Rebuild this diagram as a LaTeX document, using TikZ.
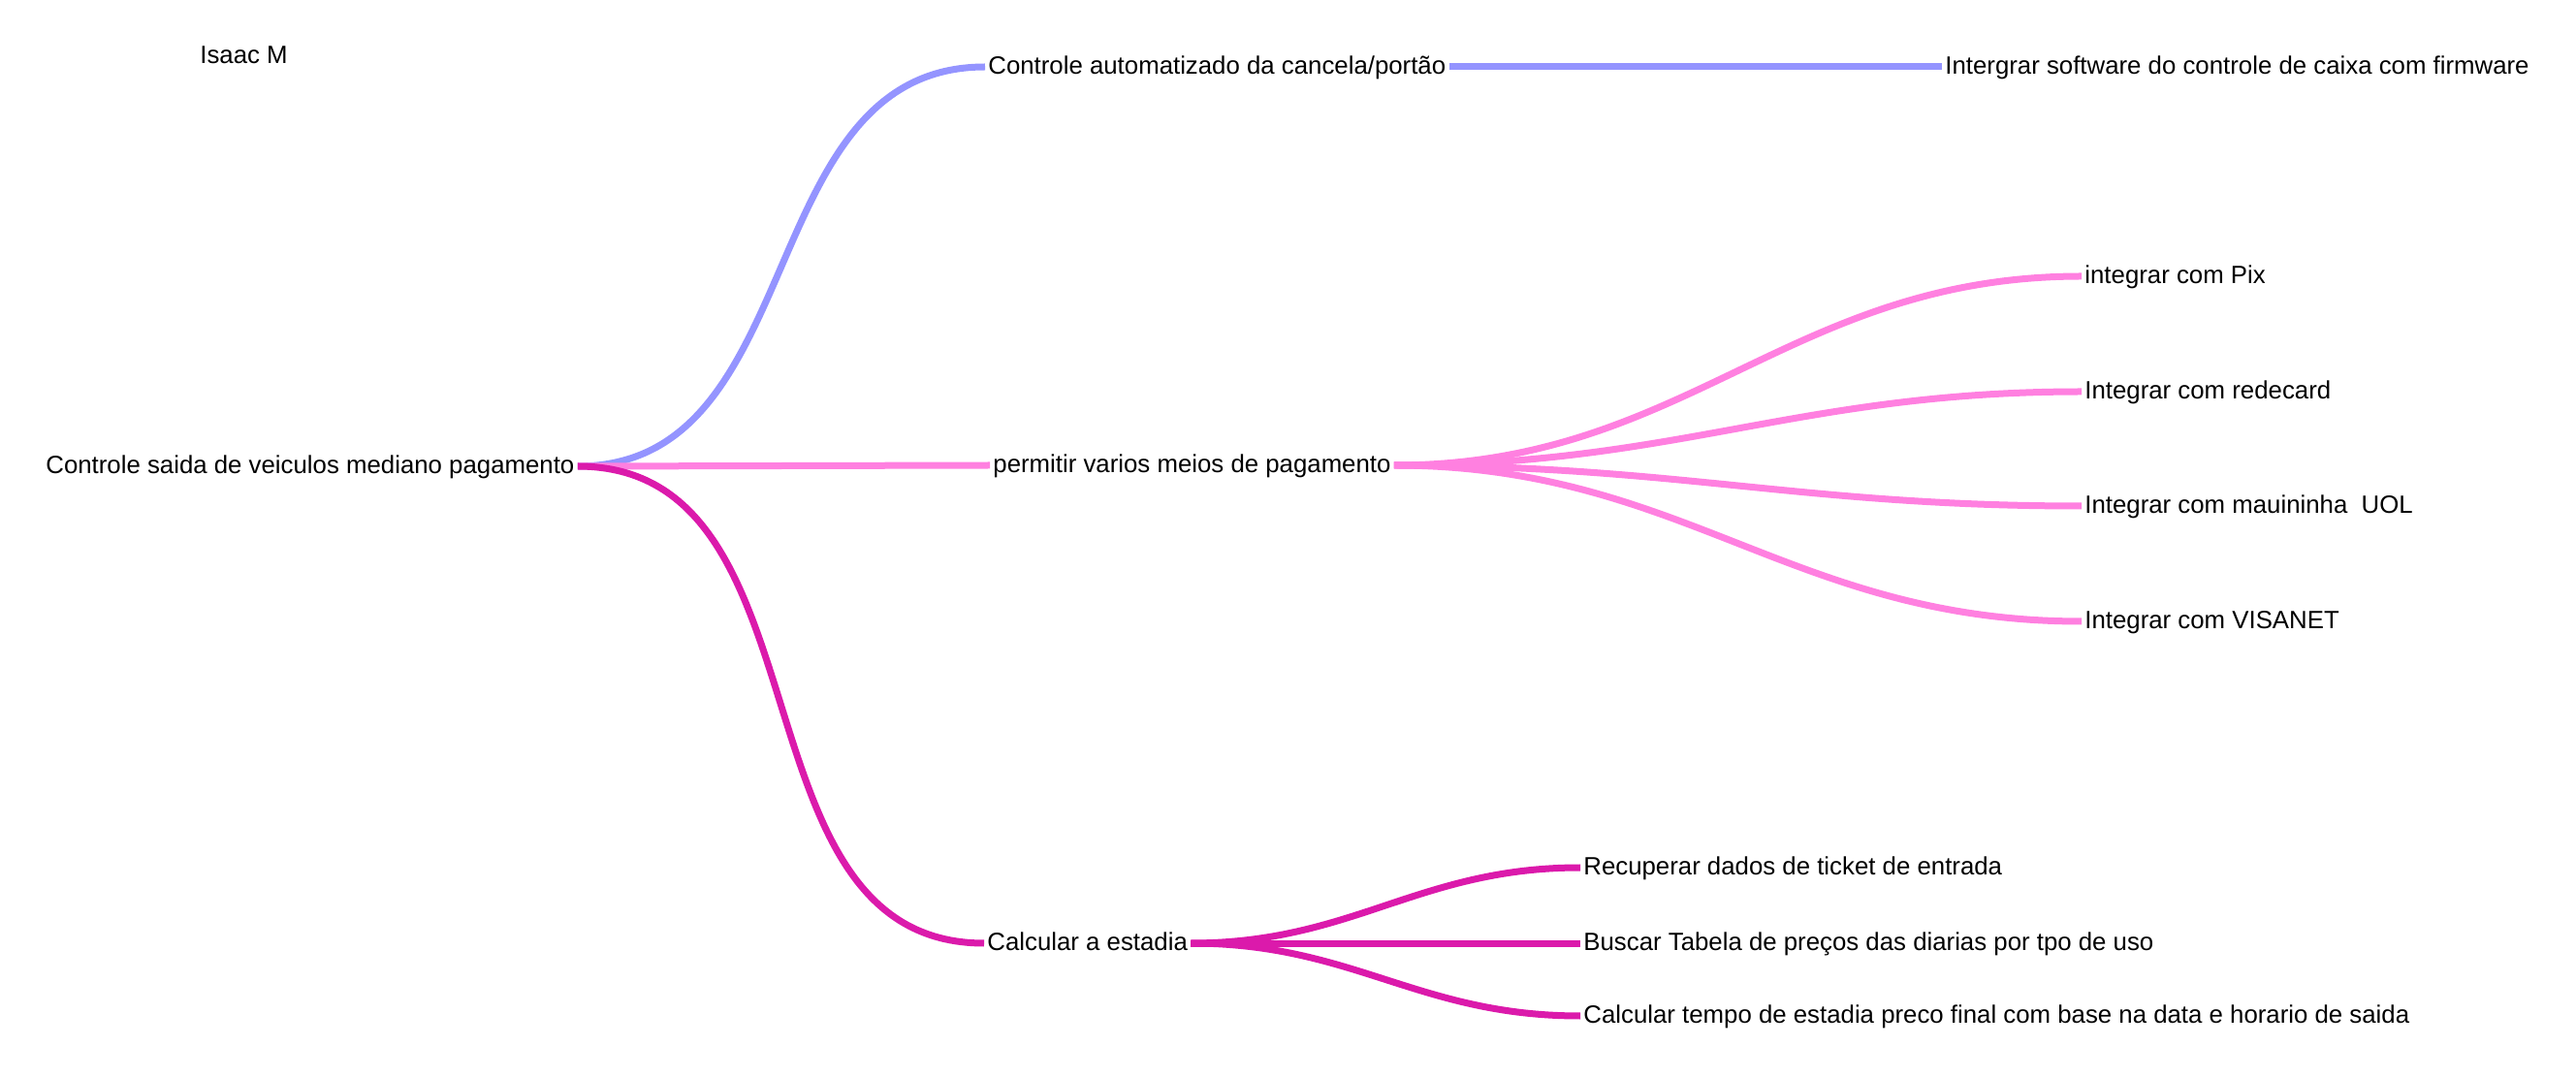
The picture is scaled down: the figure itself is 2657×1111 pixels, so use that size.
\documentclass[tikz,border=0pt]{standalone}
\usepackage{fontspec}
\setmainfont{Liberation Sans}
\definecolor{cblue}{HTML}{9494FF}
\definecolor{cpink}{HTML}{FF80E0}
\definecolor{cmag}{HTML}{DB1AAB}
\begin{document}
\begin{tikzpicture}[x=0.5pt,y=-0.5pt,
  lbl/.style={anchor=west,inner xsep=1.5pt,inner ysep=0pt,text height=0.86em,text depth=0.14em,font=\fontsize{12.9}{15}\selectfont},
  conn/.style={line width=3.5pt,line cap=butt},
  curv/.style={conn,out=0,in=180,looseness=1.05}]
\useasboundingbox (0,0) rectangle (2657,1111);
\node[lbl] (isaac) at (203,58) {Isaac M};
\node[lbl] (root) at (44,481) {Controle saida de veiculos mediano pagamento};
\node[lbl] (auto) at (1016,69) {Controle automatizado da cancela/portão};
\node[lbl] (perm) at (1021,480) {permitir varios meios de pagamento};
\node[lbl] (calc) at (1015,973) {Calcular a estadia};
\node[lbl] (soft) at (2003,69) {Intergrar software do controle de caixa com firmware};
\node[lbl] (pix) at (2147,285) {integrar com Pix};
\node[lbl] (rede) at (2147,404) {Integrar com redecard};
\node[lbl] (maui) at (2147,522) {Integrar com mauininha\ \ UOL};
\node[lbl] (visa) at (2147,641) {Integrar com VISANET};
\node[lbl] (recu) at (1630,895) {Recuperar dados de ticket de entrada};
\node[lbl] (busc) at (1630,973) {Buscar Tabela de preços das diarias por tpo de uso};
\node[lbl] (temp) at (1630,1048) {Calcular tempo de estadia preco final com base na data e horario de saida};
% connectors
\draw[curv,cblue] (root.east) to (auto.west);
\draw[conn,cblue] (auto.east) -- (soft.west);
\draw[conn,cpink] (root.east) -- (perm.west);
\draw[curv,cmag] (root.east) to (calc.west);
\draw[curv,cpink] (perm.east) to (pix.west);
\draw[curv,cpink] (perm.east) to (rede.west);
\draw[curv,cpink] (perm.east) to (maui.west);
\draw[curv,cpink] (perm.east) to (visa.west);
\draw[curv,cmag] (calc.east) to (recu.west);
\draw[conn,cmag] (calc.east) -- (busc.west);
\draw[curv,cmag] (calc.east) to (temp.west);
\end{tikzpicture}
\end{document}
